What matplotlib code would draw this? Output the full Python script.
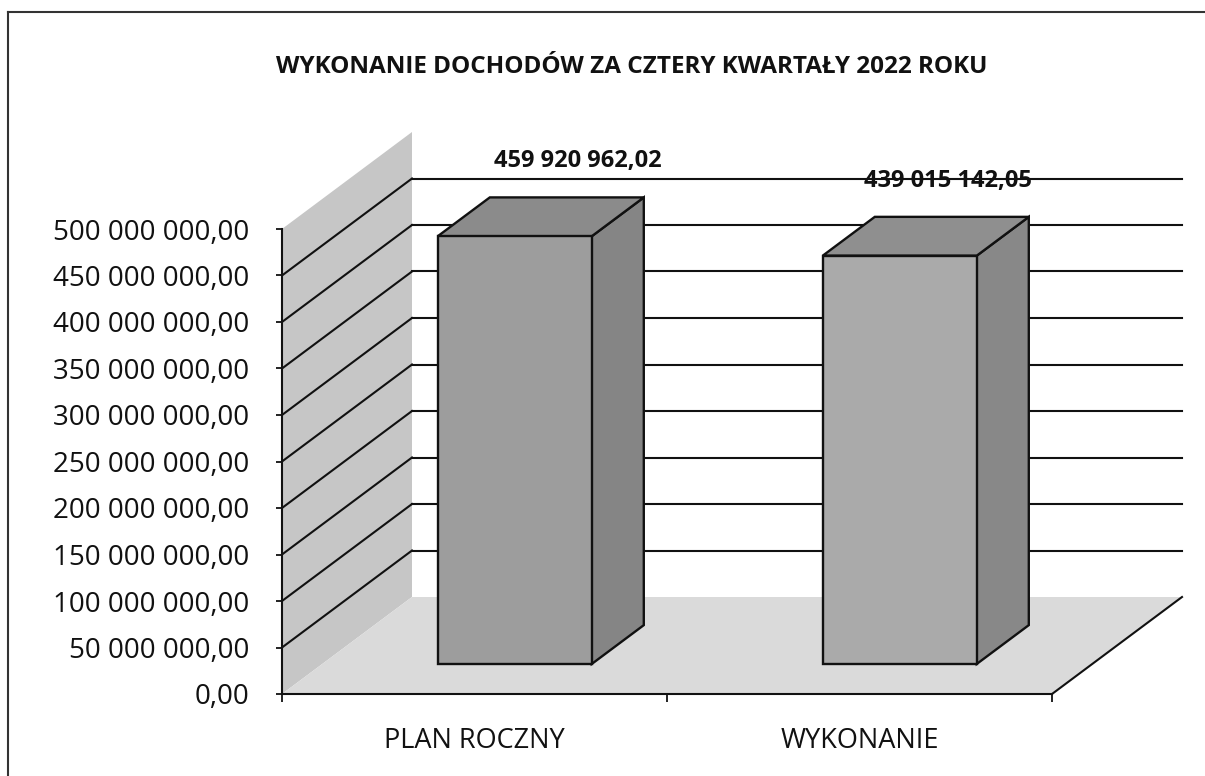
import matplotlib
matplotlib.use("Agg")
import matplotlib.pyplot as plt
from matplotlib.patches import Polygon
from matplotlib.lines import Line2D
from matplotlib.transforms import IdentityTransform

# ---------------- data ----------------
title = "WYKONANIE DOCHODÓW ZA CZTERY KWARTAŁY 2022 ROKU"
categories = ["PLAN ROCZNY", "WYKONANIE"]
values = [459920962.02, 439015142.05]
value_labels = ["459 920 962,02", "439 015 142,05"]
y_ticks = [0, 50e6, 100e6, 150e6, 200e6, 250e6, 300e6, 350e6, 400e6, 450e6, 500e6]
y_tick_labels = ["0,00", "50 000 000,00", "100 000 000,00", "150 000 000,00",
                 "200 000 000,00", "250 000 000,00", "300 000 000,00",
                 "350 000 000,00", "400 000 000,00", "450 000 000,00",
                 "500 000 000,00"]

# ---------------- style ----------------
plt.rcParams['font.family'] = ['Open Sans', 'DejaVu Sans']
W, H = 1205, 776
DX, DY = 130, 97          # depth offset of the 3-D box in pixels
F0, F1 = 0.31, 0.71        # depth range occupied by bars
BAR_W = 0.4
LABEL_DX = [11, -4]        # label nudges in pixels
LABEL_DY = 36
wall_c = "#c6c6c6"
floor_c = "#dadada"
front_c = ["#9d9d9d", "#aaaaaa"]
top_c = ["#8b8b8b", "#8f8f8f"]
side_c = ["#858585", "#888888"]

fig = plt.figure(figsize=(W / 100, H / 100), dpi=100)
ax = fig.add_axes([282 / W, (H - 694) / H, 770 / W, 465 / H])
ax.set_xlim(0, len(categories))
ax.set_ylim(y_ticks[0], y_ticks[-1])
ax.patch.set_visible(False)
for s in ("top", "right"):
    ax.spines[s].set_visible(False)
for s in ("left", "bottom"):
    ax.spines[s].set_linewidth(1.5)
    ax.spines[s].set_color("#111111")
    ax.spines[s].set_zorder(6)

ax.set_yticks(y_ticks, y_tick_labels)
ax.tick_params(axis="y", length=4.5, width=1.3, pad=19, labelsize=20, colors="#111111")
ax.set_xticks(range(len(categories) + 1), [""] * (len(categories) + 1))
ax.tick_params(axis="x", which="major", length=6, width=1.3, colors="#111111")
ax.set_xticks([i + 0.5 for i in range(len(categories))], categories, minor=True)
ax.tick_params(axis="x", which="minor", length=0, pad=24, labelsize=19.5, labelcolor="#111111")

ident = IdentityTransform()


def proj(x, v, f):
    px, py = ax.transData.transform((x, v))
    return (px + DX * f, py + DY * f)


def poly(pts, color, z, ec="none", lw=0):
    p = Polygon(pts, closed=True, facecolor=color, edgecolor=ec, linewidth=lw,
                transform=ident, zorder=z, clip_on=False, joinstyle="miter")
    ax.add_artist(p)


def line(p0, p1, z, lw=1.5, c="#111111"):
    ax.add_artist(Line2D([p0[0], p1[0]], [p0[1], p1[1]], color=c, lw=lw,
                         transform=ident, zorder=z, clip_on=False))


ymax = y_ticks[-1]
nx = len(categories)
# left wall
poly([proj(0, 0, 0), proj(0, ymax, 0), proj(0, ymax, 1), proj(0, 0, 1)], wall_c, 1)
# floor
poly([proj(0, 0, 0), proj(nx, 0, 0), proj(nx, 0, 1), proj(0, 0, 1)], floor_c, 1)
# gridlines (wall diagonal + back wall)
for v in y_ticks[1:-1]:
    line(proj(0, v, 0), proj(0, v, 1), 2)
    line(proj(0, v, 1), proj(nx, v, 1), 2)
# floor right edge
line(proj(nx, 0, 0), proj(nx, 0, 1), 2)

# bars
for i, v in enumerate(values):
    x0 = i + 0.5 - BAR_W / 2
    x1 = i + 0.5 + BAR_W / 2
    # side face
    poly([proj(x1, 0, F0), proj(x1, v, F0), proj(x1, v, F1), proj(x1, 0, F1)],
         side_c[i], 4, ec="#111111", lw=1.7)
    # top face
    poly([proj(x0, v, F0), proj(x1, v, F0), proj(x1, v, F1), proj(x0, v, F1)],
         top_c[i], 4, ec="#111111", lw=1.7)
    # front face
    poly([proj(x0, 0, F0), proj(x1, 0, F0), proj(x1, v, F0), proj(x0, v, F0)],
         front_c[i], 5, ec="#111111", lw=1.7)
    lx, ly = proj(i + 0.5, v, F1)
    ax.text(lx + LABEL_DX[i], ly + LABEL_DY, value_labels[i], transform=ident, ha="center",
            va="center", fontsize=17, fontweight="bold", color="#111111", zorder=7)

# title
fig.text(632 / W, 1 - 67 / H, title, ha="center", va="center", fontsize=17.5,
         fontweight="bold", color="#111111")

# outer frame (left and top edges visible)
fig.add_artist(Line2D([8 / W, 8 / W], [0, 1 - 12 / H], transform=fig.transFigure,
                      color="#333333", lw=1.5))
fig.add_artist(Line2D([8 / W, 1], [1 - 12 / H, 1 - 12 / H], transform=fig.transFigure,
                      color="#333333", lw=1.5))

fig.savefig("out.png", dpi=100)
